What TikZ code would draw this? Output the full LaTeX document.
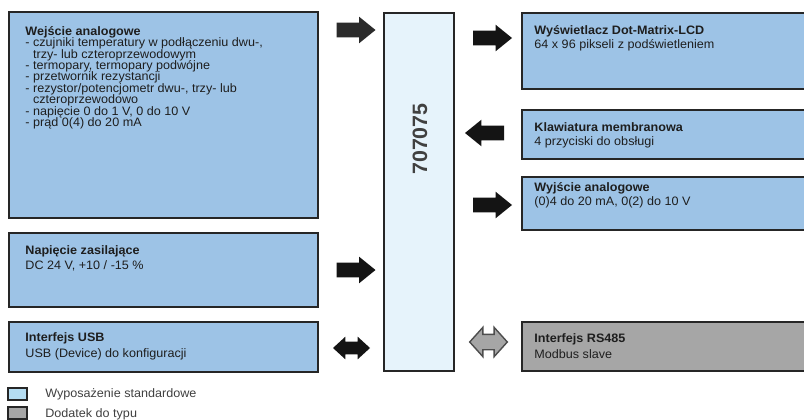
\documentclass[tikz,border=0pt]{standalone}
\usepackage{fontspec}
\setmainfont{Liberation Sans}[FakeStretch=1.03]
\usetikzlibrary{shapes.arrows,fit}
\definecolor{BDBlue}{HTML}{9DC3E6}
\definecolor{BDPale}{HTML}{E6F3FB}
\definecolor{BDGray}{HTML}{A6A6A6}
\definecolor{BDLine}{HTML}{262626}
\definecolor{BDKey}{HTML}{B5DDF2}
\definecolor{BDText}{HTML}{1E1E1E}
\definecolor{BDArrow}{HTML}{141414}
\definecolor{BDArrowIn}{HTML}{2B2B2B}
\definecolor{BDEdge}{HTML}{4D4D4D}
\lineskiplimit=-4pt
\tikzset{
  blk/.style={draw=BDLine,line width=1.2pt,fill=BDBlue,inner sep=0pt},
  txt/.style={anchor=north west,align=left,inner sep=0pt,text=BDText,font=\fontsize{8.7}{9.9}\selectfont},
  keybox/.style={draw=BDLine,line width=1pt,inner sep=0pt},
  rarrow/.style={single arrow,fill=BDArrow,inner sep=1.75mm,minimum height=9.75mm,minimum width=6.5mm,
    single arrow head extend=1.5mm,single arrow tip angle=78},
  darrow/.style={double arrow,fill=BDArrow,inner sep=1.5mm,minimum height=9.25mm,minimum width=5.5mm,
    double arrow head extend=1.25mm,double arrow tip angle=85}
}
\begin{document}
\begin{tikzpicture}[x=0.25mm,y=-0.25mm]
\path[use as bounding box] (0,0) rectangle (804,420);
\fill[white] (0,0) rectangle (804,420);
\node[blk,fit={(9,12) (318,218)}] (ain) {};
\node[blk,fit={(9,233) (318,307)}] (pwr) {};
\node[blk,fit={(9,322) (318,372)}] (usb) {};
\node[blk,fill=BDPale,fit={(384,13) (454,371)}] (dev) {};
\node[blk,fit={(522,13) (812,89)}] (lcd) {};
\node[blk,fit={(522,110) (812,159)}] (kbd) {};
\node[blk,fit={(522,177) (812,230)}] (aout) {};
\node[blk,fill=BDGray,fit={(522,322) (812,371)}] (rs) {};
\node[txt,font=\fontsize{8.7}{8.1}\selectfont] (ain-t) at ([shift={(17,15)}]ain.north west)
  {\textbf{Wejście analogowe}\\
   - czujniki temperatury w podłączeniu dwu-,\\
   \hphantom{- }trzy- lub czteroprzewodowym\\
   - termopary, termopary podwójne\\
   - przetwornik rezystancji\\
   - rezystor/potencjometr dwu-, trzy- lub\\
   \hphantom{- }czteroprzewodowo\\
   - napięcie 0 do 1 V, 0 do 10 V\\
   - prąd 0(4) do 20 mA};
\node[txt,font=\fontsize{8.7}{10.9}\selectfont] (pwr-t) at ([shift={(17,13)}]pwr.north west)
  {\textbf{Napięcie zasilające}\\DC 24 V, +10 / -15 \%};
\node[txt,font=\fontsize{8.7}{10.9}\selectfont] (usb-t) at ([shift={(17,11.5)}]usb.north west)
  {\textbf{Interfejs USB}\\USB (Device) do konfiguracji};
\node[txt] (lcd-t) at ([shift={(13,13)}]lcd.north west)
  {\textbf{Wyświetlacz Dot-Matrix-LCD}\\64 x 96 pikseli z podświetleniem};
\node[txt] (kbd-t) at ([shift={(13,13)}]kbd.north west)
  {\textbf{Klawiatura membranowa}\\4 przyciski do obsługi};
\node[txt] (aout-t) at ([shift={(13,6.5)}]aout.north west)
  {\textbf{Wyjście analogowe}\\(0)4 do 20 mA, 0(2) do 10 V};
\node[txt,font=\fontsize{8.7}{11.4}\selectfont] (rs-t) at ([shift={(13,12.5)}]rs.north west)
  {\textbf{Interfejs RS485}\\Modbus slave};
\node[rotate=90,inner sep=0pt,text=BDText!85,font=\fontsize{14.8}{16}\selectfont\bfseries] (dev-t) at (420,139) {707075};
\node[rarrow,fill=BDArrowIn] (ar-ain) at (351.5,30) {};
\node[rarrow] (ar-lcd) at (488,38) {};
\node[rarrow,shape border rotate=180] (ar-kbd) at (489,133) {};
\node[rarrow] (ar-aout) at (488,205) {};
\node[rarrow] (ar-pwr) at (351.5,270) {};
\node[darrow] (ar-usb) at (351.5,348) {};
\node[darrow,fill=BDGray,draw=BDEdge,line width=1pt,inner sep=1.75mm,minimum height=9.4mm,minimum width=7mm,
  double arrow head extend=1.75mm,double arrow tip angle=96] (ar-rs) at (488.5,342) {};
\node[keybox,fill=BDKey,fit={(8,388) (27,400)}] (key-std) {};
\node[keybox,fill=BDGray,fit={(8,407) (27,419)}] (key-opt) {};
\node[anchor=base west,inner sep=0pt,text=BDText!85,font=\fontsize{8.7}{9.9}\selectfont] (key-std-t) at (45,397) {Wyposażenie standardowe};
\node[anchor=base west,inner sep=0pt,text=BDText!85,font=\fontsize{8.7}{9.9}\selectfont] (key-opt-t) at (45,417.5) {Dodatek do typu};
\end{tikzpicture}
\end{document}
